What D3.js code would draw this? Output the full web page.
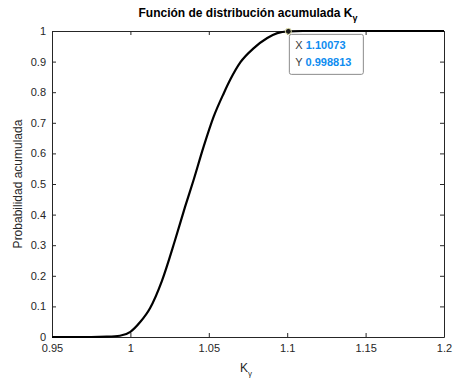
<!DOCTYPE html>
<html>
<head>
<meta charset="utf-8">
<script src="https://cdn.jsdelivr.net/npm/d3@7"></script>
<style>
  body { margin: 0; background: #fff; }
  text { font-family: "Liberation Sans", Arial, Helvetica, sans-serif; }
</style>
</head>
<body>
<div id="chart"></div>
<script>
// Chart size
const width = 454;
const height = 378;
const margin = { top: 31, right: 10, bottom: 41, left: 52 };

// CDF values
const kValues = [0.95, 0.975, 0.985, 0.9933, 1.0, 1.0061, 1.0125, 1.02, 1.0285, 1.0349, 1.0403,
  1.0467, 1.0531, 1.0595, 1.0638, 1.0702, 1.0787, 1.0873, 1.0937, 1.10073, 1.11, 1.2];
const probValues = [0, 0, 0.001, 0.004, 0.017, 0.048, 0.094, 0.182, 0.317, 0.426, 0.513,
  0.622, 0.72, 0.796, 0.842, 0.898, 0.944, 0.977, 0.993, 0.998813, 1, 1];

// Axis ticks
const xTicks = [0.95, 1, 1.05, 1.1, 1.15, 1.2];
const yTicks = [0, 0.1, 0.2, 0.3, 0.4, 0.5, 0.6, 0.7, 0.8, 0.9, 1];

// Data tip
const tipX = 1.10073;
const tipY = 0.998813;

const data = kValues.map((k, i) => ({ k: k, p: probValues[i] }));

const svg = d3.select("#chart")
    .append("svg")
    .attr("width", width)
    .attr("height", height);

const x = d3.scaleLinear()
    .domain([0.95, 1.2])
    .range([margin.left, width - margin.right]);

const y = d3.scaleLinear()
    .domain([0, 1])
    .range([height - margin.bottom, margin.top]);

const axisColor = "#262626";

// Bottom and left axes with ticks pointing inward
const xAxis = svg.append("g")
    .attr("transform", `translate(0,${height - margin.bottom})`)
    .call(d3.axisBottom(x).tickValues(xTicks).tickSizeInner(-4).tickSizeOuter(0)
        .tickFormat(d => d3.format("")(+d.toFixed(2))));
xAxis.selectAll("text").attr("y", 7).attr("dy", "0.71em");

const yAxis = svg.append("g")
    .attr("transform", `translate(${margin.left},0)`)
    .call(d3.axisLeft(y).tickValues(yTicks).tickSizeInner(-4).tickSizeOuter(0)
        .tickFormat(d => d3.format("")(+d.toFixed(1))));
yAxis.selectAll("text").attr("x", -6);

// Top and right ticks (box)
svg.append("g")
    .attr("transform", `translate(0,${margin.top})`)
    .call(d3.axisTop(x).tickValues(xTicks).tickSizeInner(-4).tickSizeOuter(0).tickFormat(""));
svg.append("g")
    .attr("transform", `translate(${width - margin.right},0)`)
    .call(d3.axisRight(y).tickValues(yTicks).tickSizeInner(-4).tickSizeOuter(0).tickFormat(""));

svg.selectAll(".domain").attr("stroke", axisColor);
svg.selectAll(".tick line").attr("stroke", axisColor);
svg.selectAll(".tick text")
    .attr("fill", axisColor)
    .style("font-size", "11px");

// CDF line
svg.append("path")
    .datum(data)
    .attr("fill", "none")
    .attr("stroke", "#000")
    .attr("stroke-width", 2.2)
    .attr("d", d3.line()
        .x(d => x(d.k))
        .y(d => y(d.p))
        .curve(d3.curveMonotoneX));

// Title with subscript
const title = svg.append("text")
    .attr("x", 248)
    .attr("y", 17)
    .attr("text-anchor", "middle")
    .style("font-size", "12px")
    .style("font-weight", "bold")
    .attr("fill", "#000");
title.append("tspan").text("Función de distribución acumulada K");
title.append("tspan").attr("dy", 4).style("font-size", "9px").text("γ");

// X label
const xLabel = svg.append("text")
    .attr("x", 246)
    .attr("y", 372)
    .attr("text-anchor", "middle")
    .attr("fill", axisColor)
    .style("font-size", "12px");
xLabel.append("tspan").text("K");
xLabel.append("tspan").attr("dy", 4).style("font-size", "8px").text("γ");

// Y label
svg.append("text")
    .attr("transform", `translate(22,${(margin.top + height - margin.bottom) / 2}) rotate(-90)`)
    .attr("text-anchor", "middle")
    .attr("fill", axisColor)
    .style("font-size", "12px")
    .text("Probabilidad acumulada");

// Data tip marker and box
const tx = x(tipX), ty = y(tipY);
svg.append("circle")
    .attr("cx", tx)
    .attr("cy", ty)
    .attr("r", 3)
    .attr("fill", "#1a1a1a")
    .attr("stroke", "#f2f0b8")
    .attr("stroke-width", 1);

const tip = svg.append("g").attr("transform", `translate(${tx + 1},${ty + 3})`);
tip.append("rect")
    .attr("width", 74)
    .attr("height", 40)
    .attr("rx", 2)
    .attr("fill", "#fff")
    .attr("fill-opacity", 0.9)
    .attr("stroke", "#8c8c8c")
    .attr("stroke-width", 1);

const tipLines = [["X", tipX.toString()], ["Y", tipY.toString()]];
tipLines.forEach(([name, val], i) => {
    const t = tip.append("text")
        .attr("x", 6)
        .attr("y", 15 + i * 17)
        .style("font-size", "11px");
    t.append("tspan").attr("fill", "#404040").text(name + " ");
    t.append("tspan").attr("fill", "#0e8cf0").style("font-weight", "bold").text(val);
});
</script>
</body>
</html>
